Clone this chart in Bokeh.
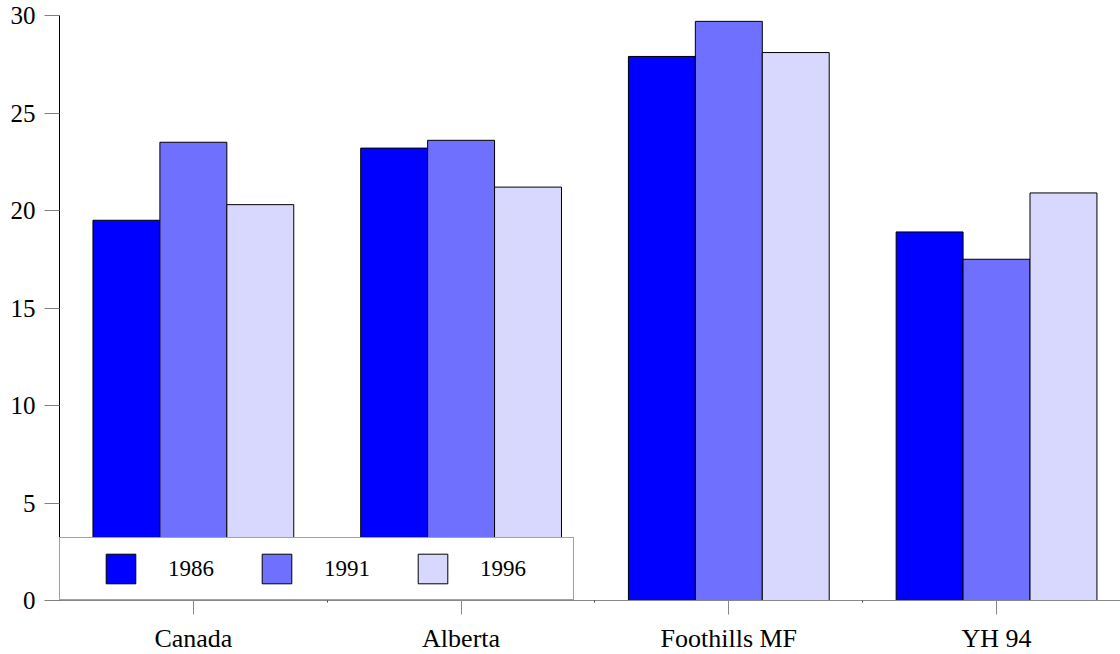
from bokeh.plotting import figure
from bokeh.models import (ColumnDataSource, Range1d, FixedTicker, Legend, LegendItem)
from bokeh.transform import dodge
from bokeh.embed import file_html
from bokeh.resources import INLINE

categories = ["Canada", "Alberta", "Foothills MF", "YH 94"]
years = ["1986", "1991", "1996"]
v1986 = [19.5, 23.2, 27.9, 18.9]
v1991 = [23.5, 23.6, 29.7, 17.5]
v1996 = [20.3, 21.2, 28.1, 20.9]
colors = ["#0000FF", "#7070FF", "#D8D8FF"]

xpos = [i + 0.5 for i in range(len(categories))]
source = ColumnDataSource(dict(x=xpos, y1986=v1986, y1991=v1991, y1996=v1996))

p = figure(frame_width=1061, frame_height=585, output_backend="svg", toolbar_location=None,
           x_range=Range1d(0, 3.963), y_range=Range1d(0, 30),
           min_border_left=59, min_border_top=15, min_border_right=0, min_border_bottom=50)
p.outline_line_color = None
p.xgrid.visible = False
p.ygrid.visible = False
p.background_fill_color = "white"
p.border_fill_color = "white"

bw = 0.25
renderers = []
for yr, off, col in zip(years, [-bw, 0.0, bw], colors):
    r = p.vbar(x=dodge("x", off, range=p.x_range), top="y" + yr, width=bw, bottom=0,
               source=source, fill_color=col, line_color="black", line_width=1)
    renderers.append(r)

font = "Liberation Serif"

# x axis
xa = p.xaxis[0]
xa.ticker = FixedTicker(ticks=xpos, minor_ticks=[1, 2, 3])
xa.major_label_overrides = {x: c for x, c in zip(xpos, categories)}
xa.axis_line_color = "#888888"
xa.major_tick_line_color = "#888888"
xa.minor_tick_line_color = "#444444"
xa.major_tick_out = 14
xa.major_tick_in = 0
xa.minor_tick_out = 2
xa.minor_tick_in = 0
xa.major_label_standoff = 9
xa.major_label_text_font = font
xa.major_label_text_font_size = "26px"
xa.major_label_text_color = "black"

# y axis
ya = p.yaxis[0]
ya.ticker = FixedTicker(ticks=[0, 5, 10, 15, 20, 25, 30], minor_ticks=[])
ya.axis_line_color = "black"
ya.major_tick_line_color = "#808080"
ya.major_tick_out = 15
ya.major_tick_in = 0
ya.minor_tick_out = 0
ya.minor_tick_in = 0
ya.major_label_standoff = 9
ya.major_label_text_font = font
ya.major_label_text_font_size = "25px"
ya.major_label_text_color = "black"

items = [LegendItem(label=yr, renderers=[r]) for yr, r in zip(years, renderers)]
legend = Legend(items=items, location=(0, 0), orientation="horizontal",
                padding=12, margin=0, glyph_width=37, glyph_height=37,
                label_standoff=29, label_width=81, spacing=9,
                label_text_font=font, label_text_font_size="23px",
                label_text_color="black",
                title=" ", title_location="left", title_text_font_size="1px",
                title_standoff=29,
                border_line_color="#444444", border_line_width=1,
                background_fill_color="white", background_fill_alpha=1.0)
p.add_layout(legend, "center")

open("out.html", "w").write(file_html(p, INLINE))
